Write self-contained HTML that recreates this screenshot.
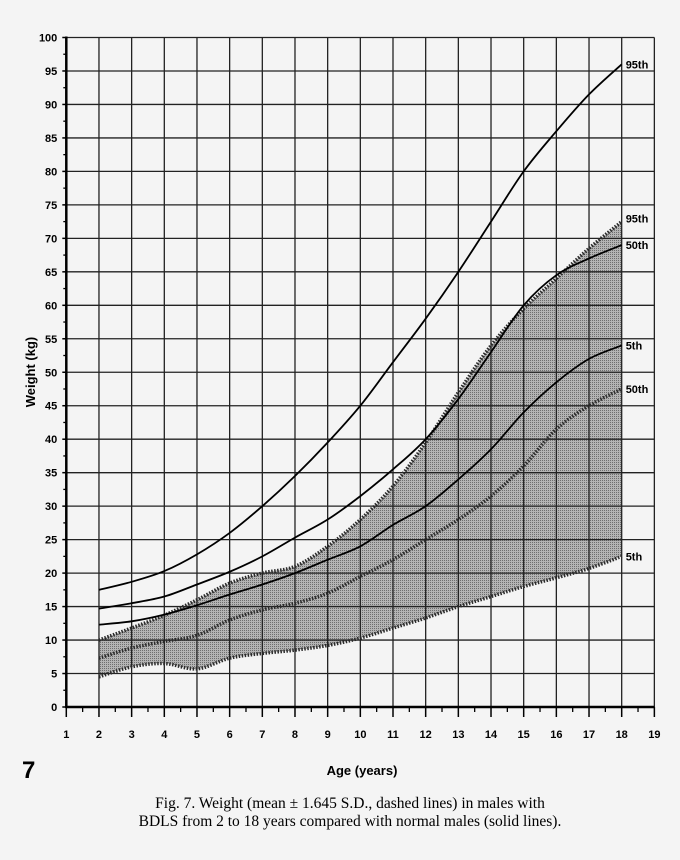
<!DOCTYPE html>
<html><head><meta charset="utf-8">
<style>
html,body{margin:0;padding:0;background:#f4f4f4;}
svg{display:block;font-family:"Liberation Sans",Arial,sans-serif;}
</style></head>
<body>
<svg id="chart" width="680" height="860" viewBox="0 0 680 860" xmlns="http://www.w3.org/2000/svg">
<defs>
<pattern id="dots" width="2" height="2" patternUnits="userSpaceOnUse">
<rect width="2" height="2" fill="#b4b4b4"/><rect width="1" height="1" fill="#6e6e6e"/>
</pattern>
</defs>
<g id="band"></g>
<g id="grid"></g>
<g id="lines"></g>
<g id="axes"></g>
<text transform="translate(35,372) rotate(-90)" text-anchor="middle" font-size="13" font-weight="bold">Weight (kg)</text>
<text x="362" y="775" text-anchor="middle" font-size="13" font-weight="bold">Age (years)</text>
<text x="22" y="778" font-size="24" font-weight="bold">7</text>
<text x="350" y="808" text-anchor="middle" font-size="15.5" font-family="Liberation Serif,serif">Fig. 7.   Weight (mean ± 1.645 S.D., dashed lines) in males with</text>
<text x="350" y="826" text-anchor="middle" font-size="15.5" font-family="Liberation Serif,serif">BDLS from 2 to 18 years compared with normal males (solid lines).</text>
</svg>
<script>
const ages=[2,3,4,5,6,7,8,9,10,11,12,13,14,15,16,17,18];
const normal95=[17.5,18.7,20.3,22.8,26,30,34.5,39.5,45,51.5,58,65,72.5,80,86,91.5,96];
const normal50=[14.7,15.5,16.5,18.3,20.2,22.5,25.3,28,31.5,35.5,40,46,53,60,64.5,67,69];
const normal5=[12.3,12.8,13.8,15.2,16.8,18.3,20,22,24,27.2,30,34,38.5,44,48.5,52,54];
const bdls95=[10,11.8,13.7,16,18.5,20,21,24,28,33,39.5,47,54,59.5,64,68.5,72.5];
const bdls50=[7.3,8.8,9.8,10.7,13,14.5,15.5,17,19.5,22,25,28,31.5,36,41.5,45,47.5];
const bdls5=[4.5,6,6.5,5.7,7.3,8,8.5,9.2,10.3,11.8,13.3,15,16.5,18,19.3,20.7,22.5];
const xTicks=[1,2,3,4,5,6,7,8,9,10,11,12,13,14,15,16,17,18,19];
const yTicks=[0,5,10,15,20,25,30,35,40,45,50,55,60,65,70,75,80,85,90,95,100];

const NS="http://www.w3.org/2000/svg";
const X=a=>66.3+(a-1)*32.67;
const Y=v=>707-v*6.695;
function mk(tag,attrs,parent){const e=document.createElementNS(NS,tag);for(const k in attrs)e.setAttribute(k,attrs[k]);parent.appendChild(e);return e;}
function pathD(xs,ys){
  const p=xs.map((a,i)=>[X(a),Y(ys[i])]);
  let d="M"+p[0][0]+","+p[0][1];
  for(let i=0;i<p.length-1;i++){
    const p0=p[Math.max(0,i-1)],p1=p[i],p2=p[i+1],p3=p[Math.min(p.length-1,i+2)];
    const c1=[p1[0]+(p2[0]-p0[0])/6,p1[1]+(p2[1]-p0[1])/6];
    const c2=[p2[0]-(p3[0]-p1[0])/6,p2[1]-(p3[1]-p1[1])/6];
    d+=" C"+c1[0]+","+c1[1]+" "+c2[0]+","+c2[1]+" "+p2[0]+","+p2[1];
  }
  return d;
}
const grid=document.getElementById('grid');
xTicks.forEach(a=>{
  const l=mk('line',{x1:X(a),x2:X(a),y1:Y(100),y2:Y(0),stroke:'#222','stroke-width':1.3},grid);
  
  
});
yTicks.forEach(v=>{
  const l=mk('line',{x1:X(1),x2:X(19),y1:Y(v),y2:Y(v),stroke:'#222','stroke-width':1.3},grid);
  
  
});
const band=document.getElementById('band');
const rev=ages.slice().reverse();
let dTop=pathD(ages,bdls95);
let dBot=pathD(rev,bdls5.slice().reverse()).replace(/^M/,' L');
const bp=mk('path',{d:dTop+dBot+" Z",fill:'url(#dots)'},band);


const lines=document.getElementById('lines');
[[bdls95,'bdls-95th'],[bdls50,'bdls-50th'],[bdls5,'bdls-5th']].forEach(([s,n])=>{
  const p=mk('path',{d:pathD(ages,s),fill:'none',stroke:'#2a2a2a','stroke-width':3.5,'stroke-dasharray':'1.5 1.5'},lines);
  
  
});
[[normal95,'normal-95th'],[normal50,'normal-50th'],[normal5,'normal-5th']].forEach(([s,n])=>{
  const p=mk('path',{d:pathD(ages,s),fill:'none',stroke:'#000','stroke-width':1.8},lines);
  
  
});
const labels=[[normal95,'95th','label-normal-95th'],[bdls95,'95th','label-bdls-95th'],[normal50,'50th','label-normal-50th'],[normal5,'5th','label-normal-5th'],[bdls50,'50th','label-bdls-50th'],[bdls5,'5th','label-bdls-5th']];
labels.forEach(([s,t,n])=>{
  const dy=(n==='label-bdls-95th')?-3:0;
  const e=mk('text',{x:X(18)+4,y:Y(s[s.length-1])+4+dy,'font-size':11,'font-weight':'bold'},lines);
  e.textContent=t;
  
  
});
const axes=document.getElementById('axes');
mk('line',{x1:X(1),x2:X(1),y1:Y(100)-1,y2:Y(0)+1,stroke:'#000','stroke-width':2.5},axes);
mk('line',{x1:X(1)-1,x2:X(19),y1:Y(0),y2:Y(0),stroke:'#000','stroke-width':2.5},axes);
yTicks.forEach(v=>{
  mk('line',{x1:X(1)-4,x2:X(1),y1:Y(v),y2:Y(v),stroke:'#000','stroke-width':1.5},axes);
  if(v<100) mk('line',{x1:X(1)-3,x2:X(1),y1:Y(v+2.5),y2:Y(v+2.5),stroke:'#000','stroke-width':1.3},axes);
  const t=mk('text',{x:X(1)-9,y:Y(v)+4,'text-anchor':'end','font-size':11,'font-weight':'bold'},axes);
  t.textContent=v;
  
  
});
xTicks.forEach(a=>{
  mk('line',{x1:X(a),x2:X(a),y1:Y(0),y2:Y(0)+10,stroke:'#000','stroke-width':1.5},axes);
  if(a<19) mk('line',{x1:X(a+0.5),x2:X(a+0.5),y1:Y(0),y2:Y(0)+5,stroke:'#000','stroke-width':1.3},axes);
  const t=mk('text',{x:X(a),y:Y(0)+31,'text-anchor':'middle','font-size':11,'font-weight':'bold'},axes);
  t.textContent=a;
  
  
});
</script>
</body></html>
